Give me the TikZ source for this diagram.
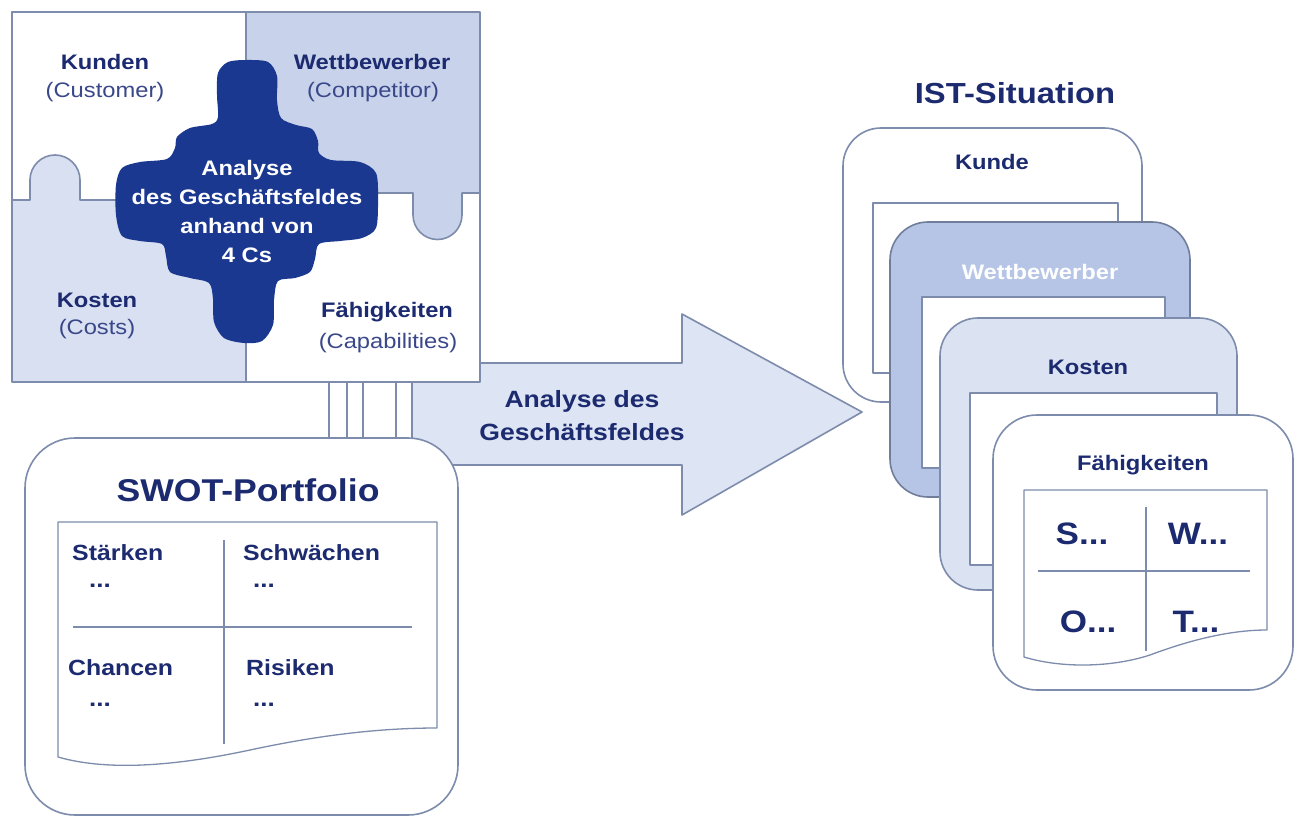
\documentclass[tikz,border=0pt]{standalone}
\usepackage{fontspec}
\setmainfont{Liberation Sans}[FakeStretch=1.13]
\definecolor{lineC}{RGB}{125,140,172}
\definecolor{navy}{RGB}{28,42,112}
\definecolor{subC}{RGB}{58,72,138}
\definecolor{compC}{RGB}{200,210,234}
\definecolor{costC}{RGB}{216,224,241}
\definecolor{blobC}{RGB}{27,56,145}
\definecolor{arrowC}{RGB}{221,228,243}
\definecolor{wettC}{RGB}{182,197,229}
\definecolor{kostC}{RGB}{219,226,242}
\begin{document}
\begin{tikzpicture}[x=1pt,y=-1pt,line join=round,
  edge/.style={draw=lineC,line width=1.6pt},
  thin edge/.style={draw=lineC,line width=1.3pt},
  lbl/.style={text=navy,font=\fontsize{21}{24}\selectfont\bfseries,inner sep=0pt},
  sub/.style={text=subC,font=\fontsize{21}{24}\selectfont,inner sep=0pt},
  cell/.style={text=navy,font=\fontsize{22}{24}\selectfont\bfseries,inner sep=0pt,anchor=west},
  dots/.style={text=navy,font=\fontsize{23}{24}\selectfont\bfseries,inner sep=0pt,anchor=west},
  swot/.style={text=navy,font=\fontsize{31.5}{32}\selectfont\bfseries,inner sep=0pt},
  title/.style={text=navy,font=\fontsize{29}{32}\selectfont\bfseries,inner sep=0pt},
  letter/.style={text=navy,font=\fontsize{31}{32}\selectfont\bfseries,inner sep=0pt},
  card/.style={edge,rounded corners=38},
  blobtxt/.style={text=white,font=\fontsize{21}{29}\selectfont\bfseries,align=center,inner sep=0pt}]
\useasboundingbox (0,0) rectangle (1300,818);
\fill[white] (0,0) rectangle (1300,818);

% big arrow towards the current situation
\filldraw[edge,fill=arrowC] (412,363) -- (682,363) -- (682,314) -- (862,412)
  -- (682,515) -- (682,465) -- (412,465) -- cycle;
\node[lbl,font=\fontsize{23.5}{33}\selectfont\bfseries,align=center] (arrowtxt) at (582,416)
  {Analyse des\\Geschäftsfeldes};

% puzzle of the 4 Cs
\fill[white] (12,12) rectangle (480,382);
\fill[compC] (246,12) -- (480,12) -- (480,193) -- (462,193) -- (462,215)
  arc[start angle=0,end angle=180,radius=24.5] -- (413,193) -- (246,193) -- cycle;
\fill[costC] (12,200) -- (30,200) -- (30,180)
  arc[start angle=180,end angle=360,radius=25] -- (80,200) -- (246,200)
  -- (246,382) -- (12,382) -- cycle;
\draw[edge] (12,200) -- (30,200) -- (30,180)
  arc[start angle=180,end angle=360,radius=25] -- (80,200) -- (246,200);
\draw[edge] (246,193) -- (413,193) -- (413,215)
  arc[start angle=180,end angle=0,radius=24.5] -- (462,193) -- (480,193);
\draw[edge] (246,12) -- (246,382);
\draw[edge] (12,12) rectangle (480,382);

% central piece
\fill[blobC] plot[smooth cycle,tension=0.5] coordinates {
  (247,60) (268,62) (277,76) (277,100) (281,118) (296,125) (312,129) (318,141)
  (319,153) (331,160) (360,162) (376,173) (378,200) (376,228) (362,238)
  (340,241) (319,244) (315,259) (310,272) (295,278) (278,281) (274,300)
  (273,325) (262,341) (244,343) (224,338) (214,322) (213,299) (209,283)
  (190,278) (170,272) (166,256) (162,244) (140,241) (122,236) (116,215)
  (116,185) (122,168) (140,162) (167,159) (175,148) (177,137) (190,128)
  (212,124) (218,117) (217,95) (218,73) (228,62)};
\node[blobtxt] (core) at (247,211)
  {Analyse\\des Geschäftsfeldes\\anhand von\\4 Cs};

\node[lbl] (kunden) at (105,62) {Kunden};
\node[sub] (customer) at (105,92) {(Customer)};
\node[lbl] (wett) at (372,62) {Wettbewerber};
\node[sub] (competitor) at (373,92) {(Competitor)};
\node[lbl] (kosten) at (97,300) {Kosten};
\node[sub] (costs) at (97,329) {(Costs)};
\node[lbl] (faeh) at (387,312) {Fähigkeiten};
\node[sub] (capab) at (388,343) {(Capabilities)};

% links between the puzzle and the portfolio
\coordinate (ptop) at (0,382);
\coordinate (sbot) at (0,438);
\foreach \xx in {329,347,363,396,412}
  \draw[thin edge] (ptop -| \xx,0) -- (sbot -| \xx,0);

% SWOT portfolio
\draw[edge,fill=white,rounded corners=50] (25,438) rectangle (458,815);
\node[swot] (swottitle) at (248,490) {SWOT-Portfolio};
\draw[thin edge,fill=white] (58,522) -- (437,522) -- (437,728)
  .. controls (380,728) and (320,735) .. (250,750)
  .. controls (180,765) and (110,772) .. (58,757) -- cycle;
\draw[thin edge] (73,627) -- (412,627);
\draw[thin edge] (224,540) -- (224,744);
\node[cell] (st) at (72,553) {Stärken};
\node[dots] (std) at (89,586) {...};
\node[cell] (sw) at (243,553) {Schwächen};
\node[dots] (swd) at (253,586) {...};
\node[cell] (ch) at (68,668) {Chancen};
\node[dots] (chd) at (89,705) {...};
\node[cell] (ri) at (246,668) {Risiken};
\node[dots] (rid) at (253,705) {...};

% current situation: stack of cards
\node[title] (ist) at (1015,93) {IST-Situation};

\draw[card,fill=white] (843,128) rectangle (1142,402);
\draw[thin edge,fill=white] (873,203) rectangle (1118,373);
\node[lbl] (kunde) at (992,162) {Kunde};

\draw[card,draw=lineC!90!black,fill=wettC] (890,222) rectangle (1190,497);
\draw[thin edge,fill=white] (922,297) rectangle (1165,468);
\node[lbl,text=white] (wettcard) at (1040,272) {Wettbewerber};

\draw[card,fill=kostC] (940,318) rectangle (1237,590);
\draw[thin edge,fill=white] (970,393) rectangle (1217,565);
\node[lbl] (kostcard) at (1088,367) {Kosten};

\draw[card,rounded corners=44,fill=white] (993,415) rectangle (1293,690);
\node[lbl] (faehcard) at (1143,465) {Fähigkeiten};
\draw[thin edge,fill=white] (1024,490) -- (1267,490) -- (1267,630)
  .. controls (1230,630) and (1190,640) .. (1150,655)
  .. controls (1110,668) and (1060,668) .. (1024,657) -- cycle;
\draw[thin edge] (1038,571) -- (1250,571);
\draw[thin edge] (1146,507) -- (1146,651);
\node[letter] (s) at (1082,534) {S...};
\node[letter] (w) at (1198,534) {W...};
\node[letter] (o) at (1088,622) {O...};
\node[letter] (t) at (1196,622) {T...};
\end{tikzpicture}
\end{document}
